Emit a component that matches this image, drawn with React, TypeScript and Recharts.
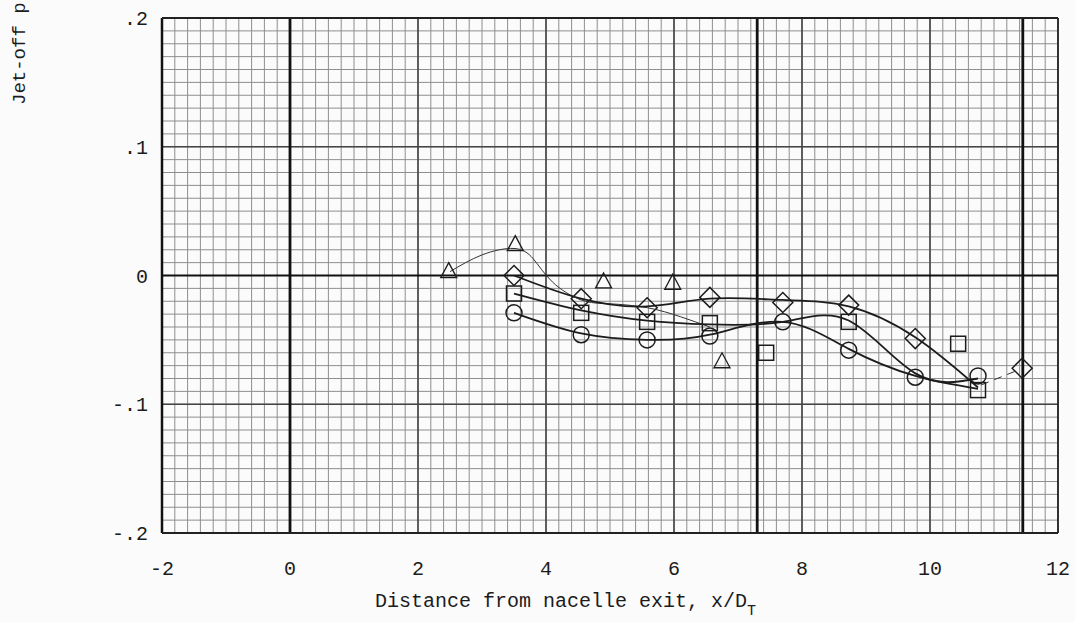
import React from "react";
import {
  ComposedChart,
  XAxis,
  YAxis,
  Line,
  Scatter,
  ReferenceLine,
} from "recharts";

// axis ticks
const X_TICKS = [-2, 0, 2, 4, 6, 8, 10, 12];
const Y_TICKS = [-0.2, -0.1, 0, 0.1, 0.2];
// graph paper: minor every 0.2 in x, 0.01 in y
const X_MINOR = Array.from({ length: 71 }, (_, i) => Math.round((-2 + i * 0.2) * 10) / 10);
const Y_MINOR = Array.from({ length: 41 }, (_, i) => Math.round((-0.2 + i * 0.01) * 1000) / 1000);
const X_MEDIUM = [2, 4, 6, 8, 10];
const Y_MEDIUM = [-0.1, 0.1];
const X_HEAVY = [0, 7.3, 11.45];

// test points
const diamonds = [
  { x: 3.5, y: 0.0 },
  { x: 4.55, y: -0.018 },
  { x: 5.58, y: -0.025 },
  { x: 6.56, y: -0.017 },
  { x: 7.7, y: -0.021 },
  { x: 8.73, y: -0.023 },
  { x: 9.77, y: -0.049 },
  { x: 11.44, y: -0.072 },
];
const squares = [
  { x: 3.5, y: -0.014 },
  { x: 4.55, y: -0.029 },
  { x: 5.58, y: -0.036 },
  { x: 6.56, y: -0.037 },
  { x: 7.44, y: -0.06 },
  { x: 8.73, y: -0.036 },
  { x: 10.44, y: -0.053 },
  { x: 10.75, y: -0.089 },
];
const circles = [
  { x: 3.5, y: -0.029 },
  { x: 4.55, y: -0.046 },
  { x: 5.58, y: -0.05 },
  { x: 6.56, y: -0.047 },
  { x: 7.7, y: -0.036 },
  { x: 8.73, y: -0.058 },
  { x: 9.77, y: -0.079 },
  { x: 10.75, y: -0.078 },
];
const triangles = [
  { x: 2.48, y: 0.003 },
  { x: 3.52, y: 0.024 },
  { x: 4.9, y: -0.005 },
  { x: 5.98, y: -0.006 },
  { x: 6.75, y: -0.067 },
];

// faired curves
const diamondFair = [
  { x: 3.5, y: 0.0 },
  { x: 4.55, y: -0.018 },
  { x: 5.58, y: -0.024 },
  { x: 6.56, y: -0.018 },
  { x: 7.7, y: -0.019 },
  { x: 8.73, y: -0.024 },
  { x: 9.77, y: -0.048 },
  { x: 10.75, y: -0.087 },
];
const squareFair = [
  { x: 3.5, y: -0.014 },
  { x: 4.55, y: -0.027 },
  { x: 5.58, y: -0.035 },
  { x: 6.56, y: -0.038 },
  { x: 7.7, y: -0.036 },
  { x: 8.73, y: -0.035 },
  { x: 9.77, y: -0.076 },
  { x: 10.75, y: -0.08 },
];
const circleFair = [
  { x: 3.5, y: -0.029 },
  { x: 4.55, y: -0.045 },
  { x: 5.58, y: -0.05 },
  { x: 6.56, y: -0.046 },
  { x: 7.7, y: -0.036 },
  { x: 8.73, y: -0.057 },
  { x: 9.77, y: -0.078 },
  { x: 10.75, y: -0.088 },
];
const triangleFair = [
  { x: 2.5, y: 0.003 },
  { x: 3.0, y: 0.016 },
  { x: 3.5, y: 0.021 },
  { x: 3.8, y: 0.013 },
  { x: 4.1, y: -0.005 },
  { x: 4.55, y: -0.019 },
  { x: 5.0, y: -0.022 },
  { x: 5.58, y: -0.025 },
  { x: 6.1, y: -0.032 },
  { x: 6.56, y: -0.04 },
];
const tailFair = [
  { x: 10.8, y: -0.085 },
  { x: 11.35, y: -0.074 },
];

const INK = "#1c1c1c";
const FONT = "'Liberation Mono', 'DejaVu Sans Mono', monospace";

const fmtY = (v: number) => {
  if (v === 0) return "0";
  const s = "." + Math.round(Math.abs(v) * 10);
  return v < 0 ? "-" + s : s;
};

const Diamond = (p: any) => {
  const { cx, cy } = p;
  const r = 10;
  return (
    <path
      d={`M${cx},${cy - r}L${cx + r},${cy}L${cx},${cy + r}L${cx - r},${cy}Z`}
      fill="none"
      stroke={INK}
      strokeWidth={1.5}
    />
  );
};
const Square = (p: any) => {
  const { cx, cy } = p;
  return (
    <rect x={cx - 7.5} y={cy - 7.5} width={15} height={15} fill="none" stroke={INK} strokeWidth={1.5} />
  );
};
const Circle = (p: any) => {
  const { cx, cy } = p;
  return <circle cx={cx} cy={cy} r={8} fill="none" stroke={INK} strokeWidth={1.5} />;
};
const Triangle = (p: any) => {
  const { cx, cy } = p;
  return (
    <path
      d={`M${cx},${cy - 9}L${cx + 8},${cy + 6}L${cx - 8},${cy + 6}Z`}
      fill="none"
      stroke={INK}
      strokeWidth={1.3}
    />
  );
};

const XLabel = (props: any) => {
  const { viewBox } = props;
  const x = viewBox.x + 213;
  const y = viewBox.y + 74;
  return (
    <text x={x} y={y} fontFamily={FONT} fontSize={20} fill={INK}>
      Distance from nacelle exit, x/D
      <tspan fontSize={15} dy={8}>T</tspan>
    </text>
  );
};

const YLabel = () => (
  <text
    x={25}
    y={105}
    transform="rotate(-90 25 105)"
    fontFamily={FONT}
    fontSize={19}
    fill={INK}
  >
    Jet-off p
  </text>
);

export default function App() {
  return (
    <div style={{ position: "absolute", left: 0, top: 0, width: 1075, height: 622, background: "#fbfbfb", overflow: "hidden" }}>
      <ComposedChart
        width={1075}
        height={622}
        margin={{ top: 18, right: 17, bottom: 39, left: 102 }}
      >
        <XAxis
          type="number"
          dataKey="x"
          domain={[-2, 12]}
          ticks={X_TICKS}
          height={50}
          tickLine={false}
          axisLine={false}
          tickMargin={22}
          tick={{ fontFamily: FONT, fontSize: 20, fill: INK }}
          label={{ content: XLabel }}
        />
        <YAxis
          type="number"
          domain={[-0.2, 0.2]}
          ticks={Y_TICKS}
          width={60}
          tickLine={false}
          axisLine={false}
          tickMargin={8}
          tickFormatter={fmtY}
          tick={{ fontFamily: FONT, fontSize: 20, fill: INK }}
          label={{ content: YLabel }}
        />

        {X_MINOR.map((v) => (
          <ReferenceLine key={"xn" + v} x={v} stroke="#8e8e8e" strokeWidth={1} />
        ))}
        {Y_MINOR.map((v) => (
          <ReferenceLine key={"yn" + v} y={v} stroke="#8e8e8e" strokeWidth={1} />
        ))}
        {X_MEDIUM.map((v) => (
          <ReferenceLine key={"xm" + v} x={v} stroke="#444" strokeWidth={1.6} />
        ))}
        {Y_MEDIUM.map((v) => (
          <ReferenceLine key={"ym" + v} y={v} stroke="#444" strokeWidth={1.6} />
        ))}
        {X_HEAVY.map((v) => (
          <ReferenceLine key={"xh" + v} x={v} stroke="#111" strokeWidth={2.8} />
        ))}
        <ReferenceLine y={0} stroke="#111" strokeWidth={2.2} />
        <ReferenceLine x={-2} stroke="#111" strokeWidth={2.5} />
        <ReferenceLine x={12} stroke="#222" strokeWidth={1.8} />
        <ReferenceLine y={0.2} stroke="#222" strokeWidth={2} />
        <ReferenceLine y={-0.2} stroke="#222" strokeWidth={1.8} />

        <Line data={triangleFair} dataKey="y" type="natural" stroke="#333" strokeWidth={1} dot={false} isAnimationActive={false} />
        <Line data={tailFair} dataKey="y" type="linear" stroke="#333" strokeWidth={1} strokeDasharray="8 6" dot={false} isAnimationActive={false} />
        <Line data={diamondFair} dataKey="y" type="natural" stroke={INK} strokeWidth={1.8} dot={false} isAnimationActive={false} />
        <Line data={squareFair} dataKey="y" type="natural" stroke={INK} strokeWidth={1.8} dot={false} isAnimationActive={false} />
        <Line data={circleFair} dataKey="y" type="natural" stroke={INK} strokeWidth={1.8} dot={false} isAnimationActive={false} />

        <Scatter data={triangles} dataKey="y" shape={Triangle} isAnimationActive={false} />
        <Scatter data={diamonds} dataKey="y" shape={Diamond} isAnimationActive={false} />
        <Scatter data={squares} dataKey="y" shape={Square} isAnimationActive={false} />
        <Scatter data={circles} dataKey="y" shape={Circle} isAnimationActive={false} />
      </ComposedChart>
    </div>
  );
}
